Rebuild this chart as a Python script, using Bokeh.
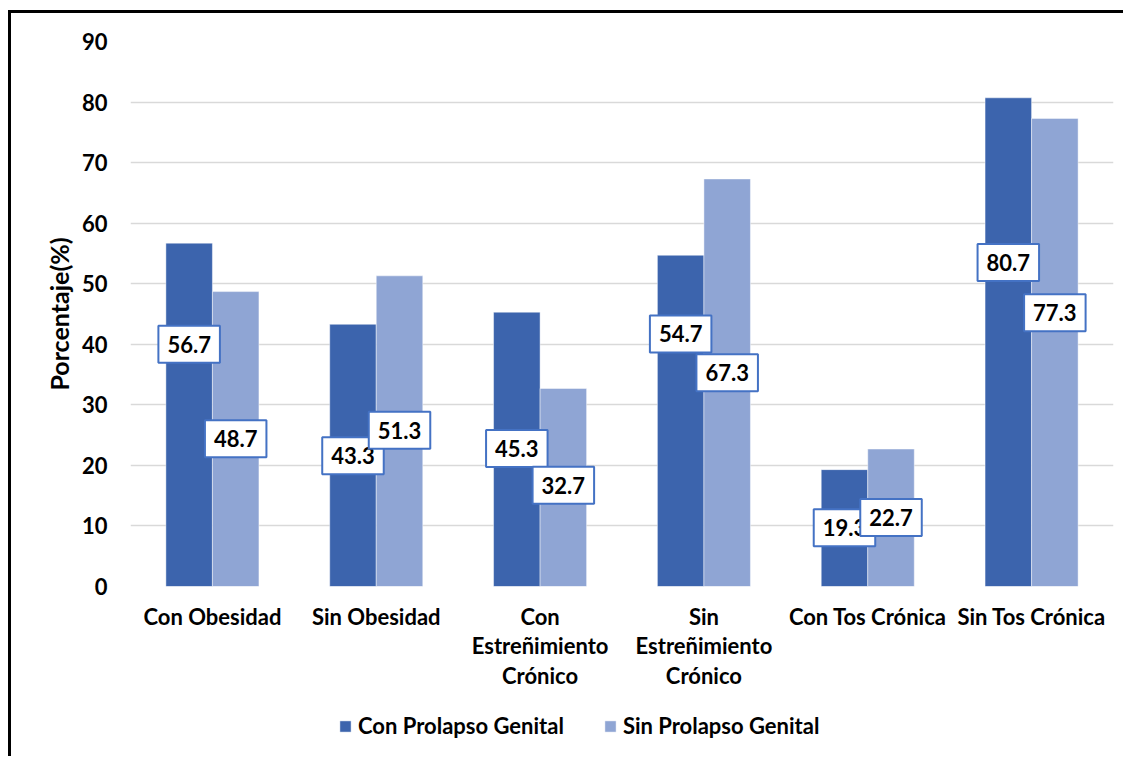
from bokeh.plotting import figure
from bokeh.layouts import column
from bokeh.models import FactorRange, Range1d, ColumnDataSource, Legend, LegendItem, FixedTicker
from bokeh.transform import dodge
from bokeh.core.properties import value
from bokeh.embed import file_html
from bokeh.resources import INLINE

# ---- data ----
categories = ["Con Obesidad", "Sin Obesidad", "Con\nEstreñimiento\nCrónico",
              "Sin\nEstreñimiento\nCrónico", "Con Tos Crónica", "Sin Tos Crónica"]
series_names = ["Con Prolapso Genital", "Sin Prolapso Genital"]
con_prolapso = [56.7, 43.3, 45.3, 54.7, 19.3, 80.7]
sin_prolapso = [48.7, 51.3, 32.7, 67.3, 22.7, 77.3]
# where each data label box sits (value axis units), as placed in the original
con_label_pos = [40.0, 21.6, 22.8, 41.7, 9.7, 53.5]
sin_label_pos = [24.4, 25.8, 16.7, 35.3, 11.4, 45.2]
y_ticks = [0, 10, 20, 30, 40, 50, 60, 70, 80, 90]

DARK = "#3C64AD"
LIGHT = "#8FA5D4"
BOX = "#4472C4"
FONT = "Lato"
FS = "22px"

src = ColumnDataSource(dict(
    cats=categories,
    con=con_prolapso,
    sin=sin_prolapso,
    con_ly=con_label_pos,
    sin_ly=sin_label_pos,
    con_txt=[f"{v:.1f}" for v in con_prolapso],
    sin_txt=[f"{v:.1f}" for v in sin_prolapso],
))

p = figure(x_range=FactorRange(*categories, range_padding=0),
           y_range=Range1d(0, 90),
           width=1115, height=683,
           output_backend="svg", toolbar_location=None,
           min_border_left=119, min_border_right=13,
           min_border_top=28, min_border_bottom=110)
p.margin = (10, 0, 0, 8)
p.styles = {"border-left": "3px solid black", "border-top": "3px solid black"}

p.outline_line_color = None
p.background_fill_color = "white"
p.border_fill_color = "white"
p.xgrid.grid_line_color = None
p.ygrid.grid_line_color = "#D9D9D9"
p.ygrid.grid_line_width = 1.5
p.yaxis.ticker = FixedTicker(ticks=y_ticks)

for ax in (p.xaxis[0], p.yaxis[0]):
    ax.axis_line_color = None
    ax.major_tick_line_color = None
    ax.minor_tick_line_color = None
    ax.major_tick_in = 0
    ax.major_tick_out = 0
    ax.major_label_text_font = FONT
    ax.major_label_text_font_style = "bold"
    ax.major_label_text_font_size = FS
    ax.major_label_text_color = "black"

p.yaxis.major_label_standoff = 23
p.xaxis.major_label_standoff = 16
p.xaxis.major_label_text_line_height = 1.1
p.xaxis.major_label_orientation = "horizontal"
p.yaxis.axis_label = "Porcentaje(%)"
p.yaxis.axis_label_text_font = FONT
p.yaxis.axis_label_text_font_style = "bold"
p.yaxis.axis_label_text_font_size = "25px"
p.yaxis.axis_label_text_color = "black"
p.yaxis.axis_label_standoff = 5

BW = 0.284
bar_style = dict(line_color="white", line_alpha=0.45, line_width=1)
p.vbar(x=dodge("cats", -BW / 2, range=p.x_range), top="con", width=BW, source=src,
       fill_color=DARK, **bar_style)
p.vbar(x=dodge("cats", BW / 2, range=p.x_range), top="sin", width=BW, source=src,
       fill_color=LIGHT, **bar_style)

label_kw = dict(source=src, text_font=value(FONT), text_font_style="bold", text_font_size=FS,
                text_color="black", text_align="center", text_baseline="middle",
                background_fill_color="white", border_line_color=BOX, border_line_width=2,
                padding=dict(left=9, right=9, top=10, bottom=10))
p.text(x=dodge("cats", -BW / 2, range=p.x_range), y="con_ly", text="con_txt", **label_kw)
p.text(x=dodge("cats", BW / 2, range=p.x_range), y="sin_ly", text="sin_txt", **label_kw)

# ---- legend strip below the chart (its frame is aligned with the chart's frame) ----
pl = figure(width=1115, height=63, output_backend="svg", toolbar_location=None,
            x_range=Range1d(0, 1), y_range=Range1d(0, 1),
            x_axis_location=None, y_axis_location=None, min_border=0)
pl.margin = (0, 0, 0, 8)
pl.styles = {"border-left": "3px solid black"}
pl.outline_line_color = None
pl.grid.visible = False
# legend proxies: zero-height bars placed outside the strip's visible range
proxy = ColumnDataSource(dict(x=[-5.0], top=[0.0]))
l1 = pl.vbar(x="x", top="top", width=0.1, source=proxy, fill_color=DARK, **bar_style)
l2 = pl.vbar(x="x", top="top", width=0.1, source=proxy, fill_color=LIGHT, **bar_style)
legend = Legend(items=[LegendItem(label=series_names[0], renderers=[l1]),
                       LegendItem(label=series_names[1], renderers=[l2])],
                orientation="horizontal", location=(208, 17))
legend.border_line_color = None
legend.background_fill_alpha = 0
legend.padding = 0
legend.margin = 0
legend.spacing = 39
legend.label_standoff = 6
legend.glyph_width = 14
legend.glyph_height = 14
legend.label_height = 20
legend.label_text_font = FONT
legend.label_text_font_style = "bold"
legend.label_text_font_size = "22px"
legend.label_text_color = "black"
pl.add_layout(legend, "center")

layout = column(p, pl, spacing=0)
open("out.html", "w").write(file_html(layout, INLINE))
